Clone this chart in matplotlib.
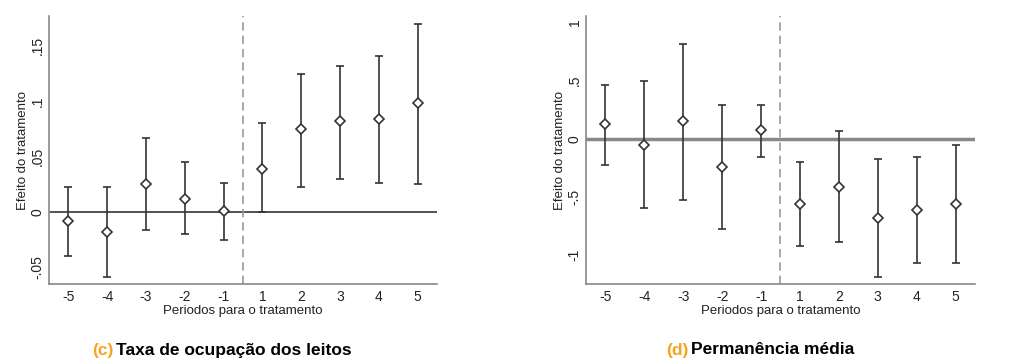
import matplotlib
matplotlib.use("Agg")
import matplotlib.pyplot as plt
import numpy as np

periods = ["-5", "-4", "-3", "-2", "-1", "1", "2", "3", "4", "5"]

# (c) Taxa de ocupação dos leitos
c_est = [-0.008, -0.018, 0.025, 0.012, 0.001, 0.039, 0.075, 0.082, 0.084, 0.098]
c_hi = [0.023, 0.023, 0.067, 0.045, 0.026, 0.080, 0.125, 0.132, 0.141, 0.170]
c_lo = [-0.040, -0.059, -0.016, -0.020, -0.025, 0.0003, 0.023, 0.030, 0.026, 0.025]
c_yticks = [-0.05, 0, 0.05, 0.1, 0.15]
c_yticklabels = ["-.05", "0", ".05", ".1", ".15"]

# (d) Permanência média
d_est = [0.126, -0.051, 0.154, -0.246, 0.074, -0.56, -0.414, -0.68, -0.614, -0.56]
d_hi = [0.463, 0.497, 0.814, 0.289, 0.294, -0.20, 0.069, -0.171, -0.157, -0.057]
d_lo = [-0.223, -0.597, -0.523, -0.774, -0.154, -0.92, -0.886, -1.186, -1.069, -1.063]
d_yticks = [-1, -0.5, 0, 0.5, 1]
d_yticklabels = ["-1", "-.5", "0", ".5", "1"]

W, H = 1014, 364
fig = plt.figure(figsize=(W / 100, H / 100), dpi=100)
plt.rcParams['font.family'] = ['Liberation Sans', 'DejaVu Sans']

def panel(rect, est, lo, hi, yticks, ylabels, ylim, zero_lw, zero_color):
    ax = fig.add_axes(rect)
    x = np.arange(1, len(est) + 1)
    est = np.array(est); lo = np.array(lo); hi = np.array(hi)
    ax.axhline(0, color=zero_color, lw=zero_lw, zorder=1)
    ax.axvline(5.5, color="#999999", lw=1.2, ls=(0, (5, 3)), zorder=1)
    ax.errorbar(x, est, yerr=[est - lo, hi - est], fmt="none", ecolor="#333333",
                elinewidth=1.2, capsize=3, capthick=1.2, zorder=2)
    ax.plot(x, est, ls="none", marker="D", ms=5.5, mfc="white", mec="#333333",
            mew=1.2, zorder=3)
    ax.set_xlim(0.5, 10.5)
    ax.set_ylim(*ylim)
    ax.set_xticks(x)
    ax.set_xticklabels(periods, fontsize=10, color="#222222")
    ax.set_yticks(yticks)
    ax.set_yticklabels(ylabels, fontsize=10, rotation=90, va="center", color="#222222")
    ax.tick_params(axis="y", length=0, pad=3)
    ax.tick_params(axis="x", length=0, pad=4)
    for s in ["top", "right"]:
        ax.spines[s].set_visible(False)
    for s in ["left", "bottom"]:
        ax.spines[s].set_color("#888888")
        ax.spines[s].set_linewidth(1.2)
    ax.set_xlabel("Periodos para o tratamento", fontsize=9.5, labelpad=1, color="#222222")
    ax.set_ylabel("Efeito do tratamento", fontsize=9.5, labelpad=1, color="#222222")
    return ax

panel([49 / W, 80 / H, 388 / W, 268 / H], c_est, c_lo, c_hi, c_yticks,
      c_yticklabels, (-0.065, 0.177), 1.3, "#444444")
panel([586 / W, 80 / H, 389 / W, 268 / H], d_est, d_lo, d_hi, d_yticks,
      d_yticklabels, (-1.246, 1.054), 2.5, "#888888")

cap_font = ['Liberation Sans Narrow', 'Liberation Sans', 'DejaVu Sans']
def caption(xpix, letter, text):
    t1 = fig.text(xpix / W, 1 - 350 / H, f"({letter})", fontsize=12.5, color="#F7A31C",
                  family=cap_font, va="center", ha="left", fontweight="bold")
    fig.canvas.draw()
    bb = t1.get_window_extent()
    fig.text((bb.x1 + 3) / W, 1 - 350 / H, text, fontsize=12.5, color="black",
             family=cap_font, va="center", ha="left", fontweight="bold")

caption(92, "c", "Taxa de ocupação dos leitos")
caption(666, "d", "Permanência média")

fig.savefig("out.png", dpi=100)
